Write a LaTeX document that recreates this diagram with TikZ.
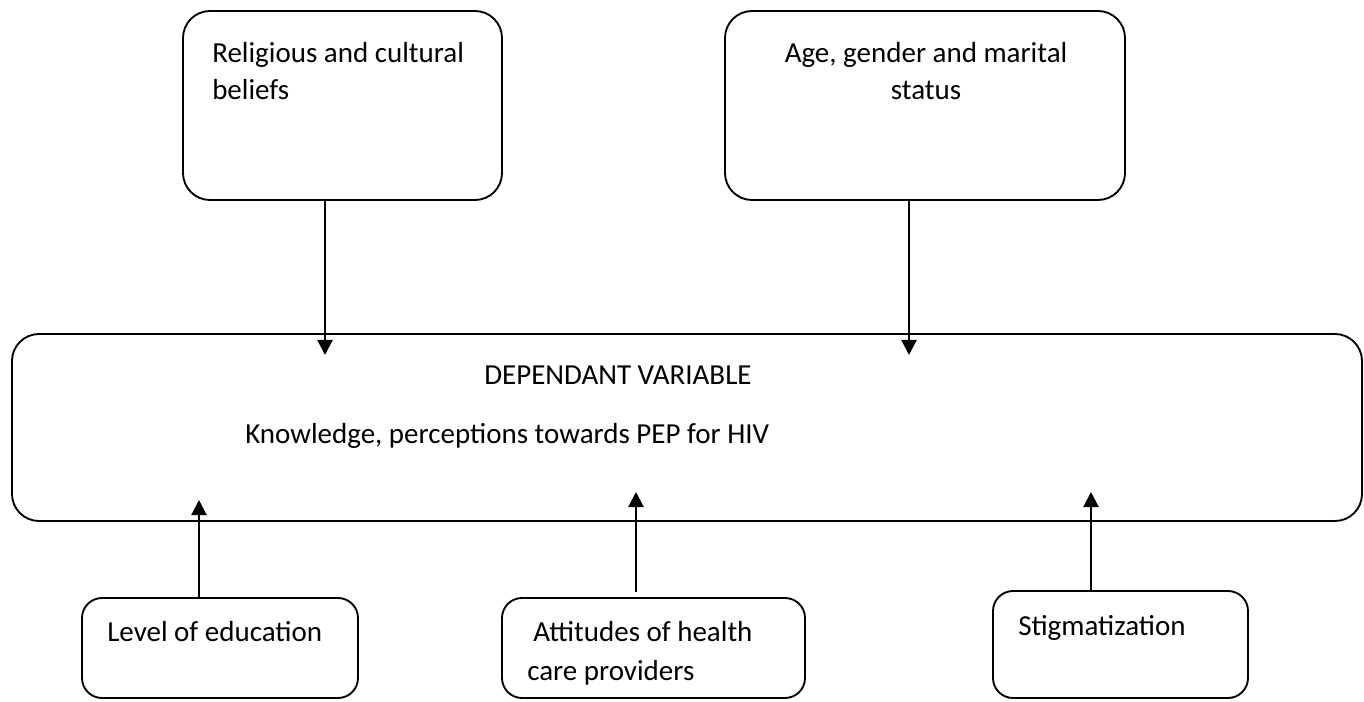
\documentclass[tikz,border=0pt]{standalone}
\usepackage{fontspec}
\setmainfont{Carlito}
\usetikzlibrary{arrows.meta}
\begin{document}
\begin{tikzpicture}[x=0.75pt,y=-0.75pt,
  box/.style={draw=black, line width=1.4pt, inner sep=0pt, fill=none},
  bigbox/.style={box, rounded corners=27*0.75pt},
  smallbox/.style={box, rounded corners=20*0.75pt},
  txt/.style={inner sep=0pt, font=\fontsize{21.75pt}{28.5pt}\selectfont},
  arr/.style={line width=1.6pt, -{Triangle[length=15*0.75pt, width=15*0.75pt]}}]
\useasboundingbox[fill=white] (0,0) rectangle (1364,702);

% top boxes
\node[bigbox, minimum width=319*0.75pt, minimum height=189*0.75pt] (rel) at (342.5,105.5) {};
\node[bigbox, minimum width=400*0.75pt, minimum height=189*0.75pt] (age) at (925,105.5) {};
% main box
\node[bigbox, minimum width=1350*0.75pt, minimum height=187*0.75pt] (dep) at (687,427.5) {};
% bottom boxes
\node[smallbox, minimum width=276*0.75pt, minimum height=100*0.75pt] (edu) at (220,648) {};
\node[smallbox, minimum width=303*0.75pt, minimum height=100*0.75pt] (att) at (653.5,648) {};
\node[smallbox, minimum width=255*0.75pt, minimum height=107*0.75pt] (stg) at (1120.5,644.5) {};

% texts
\node[txt, anchor=base west] (rel1) at (212,63) {Religious and cultural};
\node[txt, anchor=base west] (rel2) at (212,100) {beliefs};
\node[txt, anchor=base] (age1) at (926,63) {Age, gender and marital};
\node[txt, anchor=base] (age2) at (926,100) {status};
\node[txt, anchor=base west] (dep1) at (484,384) {DEPENDANT VARIABLE};
\node[txt, anchor=base west] (dep2) at (245,443) {Knowledge, perceptions towards PEP for HIV};
\node[txt, anchor=base west] (edu1) at (107,641) {Level of education};
\node[txt, anchor=base west] (att1) at (533,641) {Attitudes of health};
\node[txt, anchor=base west] (att2) at (527,680) {care providers};
\node[txt, anchor=base west] (stg1) at (1018,635) {Stigmatization};

% arrow end points
\coordinate (t1) at (325,355);
\coordinate (t2) at (909,355);
\coordinate (u1) at (199,500);
\coordinate (u2) at (636,492);
\coordinate (s2) at (636,592);
\coordinate (u3) at (1091,492);

\draw[arr] (rel.south -| t1) -- (t1);
\draw[arr] (age.south -| t2) -- (t2);
\draw[arr] (edu.north -| u1) -- (u1);
\draw[arr] (s2) -- (u2);
\draw[arr] (stg.north -| u3) -- (u3);
\end{tikzpicture}
\end{document}
